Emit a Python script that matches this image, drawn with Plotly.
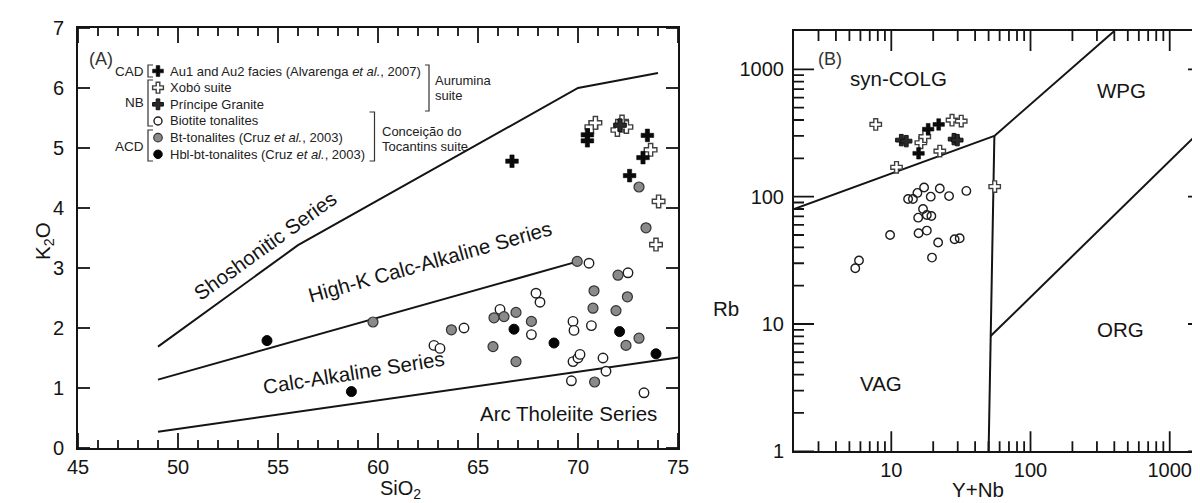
import plotly.graph_objects as go
import numpy as np

W, H = 1200, 503
FONT = "Liberation Sans, Arial, sans-serif"
INK = "#141414"

# ---------------- Panel A : K2O vs SiO2 ----------------
au_sio2 = [66.7, 70.47, 70.47, 73.47, 73.25, 72.58]
au_k2o = [4.78, 5.22, 5.12, 5.21, 4.84, 4.54]

xobo_sio2 = [70.67, 70.87, 72.2, 71.97, 72.42, 73.63, 74.03, 73.9]
xobo_k2o = [5.35, 5.42, 5.44, 5.3, 5.35, 4.97, 4.11, 3.39]

principe_sio2 = [72.1]
principe_k2o = [5.38]

bio_sio2 = [70.55, 72.5, 67.9, 68.1, 66.1, 67.67, 64.3, 62.8, 63.1, 69.75, 69.8,
            70.67, 69.75, 70.0, 70.1, 71.25, 71.4, 69.67, 73.3]
bio_k2o = [3.08, 2.92, 2.58, 2.43, 2.31, 1.89, 2.0, 1.71, 1.66, 2.11, 1.96,
           2.04, 1.44, 1.50, 1.56, 1.5, 1.28, 1.12, 0.92]

bt_sio2 = [59.75, 63.67, 65.75, 65.8, 66.3, 66.9, 67.67, 66.9, 69.96, 72.0, 70.8,
           72.47, 70.75, 71.9, 72.4, 73.05, 70.83, 73.05, 73.4]
bt_k2o = [2.1, 1.97, 1.69, 2.17, 2.19, 2.26, 2.11, 1.44, 3.11, 2.88, 2.62,
          2.52, 2.33, 2.29, 1.71, 1.83, 1.1, 4.35, 3.67]

hbl_sio2 = [54.45, 58.67, 66.8, 68.8, 72.08, 73.9]
hbl_k2o = [1.79, 0.94, 1.98, 1.75, 1.94, 1.57]

# series boundaries
sho_x = [49, 56, 70, 74]
sho_y = [1.69, 3.38, 6.0, 6.25]
hik_x = [49, 70]
hik_y = [1.14, 3.11]
ca_x = [49, 75]
ca_y = [0.27, 1.51]

# ticks of panel A
a_xticks = [45, 50, 55, 60, 65, 70, 75]
a_xminor = [v for v in range(46, 75) if v % 5 != 0]
a_yticks = [0, 1, 2, 3, 4, 5, 6, 7]

# ---------------- Panel B : Rb vs Y+Nb ----------------
xobo_ynb = [7.73, 27.3, 31.8, 16.3, 17.4, 22.3, 10.9, 55.3]
xobo_rb = [369, 399, 392, 265, 296, 228, 170, 120]

au_ynb = [18.4, 21.9, 15.7]
au_rb = [339, 369, 219]

principe_ynb = [11.8, 12.8, 28.2, 29.8]
principe_rb = [278, 273, 283, 278]

bio_ynb = [17.2, 22.3, 34.6, 15.4, 19.2, 26.0, 13.2, 14.3, 16.9, 15.6, 18.0,
           19.4, 9.8, 15.7, 18.0, 21.7, 28.5, 31.0, 19.6, 5.86, 5.51]
bio_rb = [118, 116, 111, 107, 100, 101, 95.8, 95.8, 80, 68.4, 71.8,
          70.5, 50, 51.6, 54.1, 43.6, 46.3, 47.1, 33.2, 31.5, 27.4]

# Pearce et al. (1984) field boundaries
b1_x, b1_y = [2, 55], [80, 300]
b2_x, b2_y = [55, 400], [300, 2000]
b3_x, b3_y = [55, 51.5, 50], [300, 8, 1]
b4_x, b4_y = [51.5, 2000], [8, 400]

# ticks of panel B
b_xticks = [10, 100, 1000]
b_yticks = [1, 10, 100, 1000]
b_minor = [d * 10 ** e for e in range(0, 4) for d in range(2, 10)]

# ---------------- panel geometry (layout) ----------------
A_PX = (70, 670)        # left/right pixel of panel A
A_PY = (440, 20)        # bottom/top pixel of panel A
B_PX = (786, 1200)
B_PY = (443.3, 23)
A_XR, A_YR = [45, 75], [0, 7]
B_XR, B_YR = [np.log10(2), 3.275], [0, np.log10(2000)]

a_ppx = (A_PX[1] - A_PX[0]) / (A_XR[1] - A_XR[0])
a_ppy = (A_PY[0] - A_PY[1]) / (A_YR[1] - A_YR[0])
b_ppx = (B_PX[1] - B_PX[0]) / (B_XR[1] - B_XR[0])
b_ppy = (B_PY[0] - B_PY[1]) / (B_YR[1] - B_YR[0])

# ---------------- styles ----------------
sty = {
    "au": dict(symbol="cross", size=10.5, color="#0a0a0a", line=dict(color="#0a0a0a", width=0.6)),
    "xobo": dict(symbol="cross", size=10.5, color="white", line=dict(color="#404040", width=1.4)),
    "principe": dict(symbol="cross", size=10.5, color="#2a2a2a", line=dict(color="#111", width=1.0)),
    "bio": dict(symbol="circle", size=9.5, color="white", line=dict(color="#1e1e1e", width=1.4)),
    "bt": dict(symbol="circle", size=10, color="#8a8a8a", line=dict(color="#333", width=1.2)),
    "hbl": dict(symbol="circle", size=10, color="#050505", line=dict(color="#050505", width=1)),
}
styB = {k: dict(v) for k, v in sty.items()}
styB["bio"] = dict(symbol="circle", size=8.5, color="rgba(0,0,0,0)", line=dict(color="#1e1e1e", width=1.4))
for k in ("au", "xobo", "principe"):
    styB[k]["size"] = 9.5

fig = go.Figure()

def line(x, y, xa="x", ya="y", width=2):
    fig.add_trace(go.Scatter(x=x, y=y, mode="lines", xaxis=xa, yaxis=ya,
                             line=dict(color=INK, width=width), showlegend=False, hoverinfo="skip"))

def pts(x, y, key, name, xa="x", ya="y", s=sty):
    fig.add_trace(go.Scatter(x=x, y=y, mode="markers", xaxis=xa, yaxis=ya, name=name,
                             marker=s[key], showlegend=False))

# ---- tick marks (inside, mirrored), built from the tick arrays ----
def segs(pairs):
    xs, ys = [], []
    for (x0, y0, x1, y1) in pairs:
        xs += [x0, x1, None]; ys += [y0, y1, None]
    return xs, ys

tA = []
for v in a_xticks:
    tA += [(v, A_YR[0], v, A_YR[0] + 15 / a_ppy), (v, A_YR[1], v, A_YR[1] - 15 / a_ppy)]
for v in a_xminor:
    tA += [(v, A_YR[0], v, A_YR[0] + 8 / a_ppy), (v, A_YR[1], v, A_YR[1] - 8 / a_ppy)]
for v in a_yticks:
    tA += [(A_XR[0], v, A_XR[0] + 12 / a_ppx, v), (A_XR[1], v, A_XR[1] - 12 / a_ppx, v)]
xs, ys = segs(tA)
line(xs, ys, width=1.8)

xlo, xhi = 10 ** B_XR[0], 10 ** B_XR[1]
ylo, yhi = 10 ** B_YR[0], 10 ** B_YR[1]
tB = []
for v, L in [(v, 20) for v in b_xticks] + [(v, 10) for v in b_minor if xlo * 1.01 < v < xhi]:
    tB += [(v, ylo, v, ylo * 10 ** (L / b_ppy)), (v, yhi, v, yhi / 10 ** (L / b_ppy))]
for v, L in [(v, 20) for v in b_yticks] + [(v, 10) for v in b_minor if ylo < v < yhi * 0.99]:
    tB += [(xlo, v, xlo * 10 ** (L / b_ppx), v), (xhi, v, xhi / 10 ** (L / b_ppx), v)]
xs, ys = segs(tB)
line(xs, ys, "x2", "y2", width=1.8)

# ---- data ----
for xx, yy in [(sho_x, sho_y), (hik_x, hik_y), (ca_x, ca_y)]:
    line(xx, yy)
pts(bio_sio2, bio_k2o, "bio", "Biotite tonalites")
pts(bt_sio2, bt_k2o, "bt", "Bt-tonalites")
pts(hbl_sio2, hbl_k2o, "hbl", "Hbl-bt-tonalites")
pts(xobo_sio2, xobo_k2o, "xobo", "Xobó suite")
pts(au_sio2, au_k2o, "au", "Au1 and Au2 facies")
pts(principe_sio2, principe_k2o, "principe", "Príncipe Granite")

for xx, yy in [(b1_x, b1_y), (b2_x, b2_y), (b3_x, b3_y), (b4_x, b4_y)]:
    line(xx, yy, "x2", "y2")
pts(bio_ynb, bio_rb, "bio", "Biotite tonalites", "x2", "y2", styB)
pts(xobo_ynb, xobo_rb, "xobo", "Xobó suite", "x2", "y2", styB)
pts(au_ynb, au_rb, "au", "Au1 and Au2 facies", "x2", "y2", styB)
pts(principe_ynb, principe_rb, "principe", "Príncipe Granite", "x2", "y2", styB)

# ---------------- legend of panel A (drawn inside the panel) ----------------
leg_labels = ["Au1 and Au2 facies (Alvarenga <i>et al.</i>, 2007)", "Xobó suite", "Príncipe Granite",
              "Biotite tonalites", "Bt-tonalites (Cruz <i>et al.</i>, 2003)",
              "Hbl-bt-tonalites (Cruz <i>et al.</i>, 2003)"]
leg_keys = ["au", "xobo", "principe", "bio", "bt", "hbl"]
leg_rows = [6.283, 6.005, 5.728, 5.45, 5.172, 4.895]
leg_sym_x = 49.0
leg_txt_x = 49.5
for key, yv in zip(leg_keys, leg_rows):
    m = dict(sty[key]); m["size"] = m["size"] - 1.5
    fig.add_trace(go.Scatter(x=[leg_sym_x], y=[yv], mode="markers", marker=m,
                             showlegend=False, hoverinfo="skip"))

ann = []
for lab, yv in zip(leg_labels, leg_rows):
    ann.append(dict(x=leg_txt_x, y=yv, xref="x", yref="y", text=lab, showarrow=False,
                    xanchor="left", yanchor="middle", font=dict(size=13, family=FONT, color="#222")))
for lab, yv in [("CAD", 6.283), ("NB", 5.75), ("ACD", 5.03)]:
    ann.append(dict(x=48.42, y=yv, xref="x", yref="y", text=lab, showarrow=False,
                    xanchor="right", yanchor="middle", font=dict(size=13.5, family=FONT, color="#222")))
for lab, xv, yv in [("Aurumina", 62.75, 6.133), ("suite", 62.75, 5.867),
                    ("Conceição do", 60.1, 5.283), ("Tocantins suite", 60.1, 5.017)]:
    ann.append(dict(x=xv, y=yv, xref="x", yref="y", text=lab, showarrow=False,
                    xanchor="left", yanchor="middle", font=dict(size=13, family=FONT, color="#222")))

shapes = []
def bracket(x_in, x_out, y0, y1):
    shapes.append(dict(type="path", xref="x", yref="y",
                       path=f"M {x_in} {y0} L {x_out} {y0} L {x_out} {y1} L {x_in} {y1}",
                       line=dict(color="#333", width=1.2)))
bracket(48.75, 48.5, 6.383, 6.183)
bracket(48.75, 48.5, 6.133, 5.367)
bracket(48.75, 48.5, 5.30, 4.783)
bracket(62.35, 62.55, 6.383, 5.617)
bracket(59.575, 59.825, 5.60, 4.783)

big = dict(size=20.5, family=FONT, color=INK)
ann += [
    dict(x=46.17, y=6.49, xref="x", yref="y", text="(A)", showarrow=False,
         font=dict(size=18, family=FONT, color="#333")),
    dict(x=54.35, y=3.38, xref="x", yref="y", text="Shoshonitic Series", textangle=-35.8,
         showarrow=False, font=big),
    dict(x=62.6, y=3.11, xref="x", yref="y", text="High-K Calc-Alkaline Series", textangle=-15.7,
         showarrow=False, font=big),
    dict(x=58.75, y=1.255, xref="x", yref="y", text="Calc-Alkaline Series", textangle=-9,
         showarrow=False, font=big),
    dict(x=69.54, y=0.583, xref="x", yref="y", text="Arc Tholeiite Series",
         showarrow=False, font=big),
    dict(x=0.557, y=3.085, xref="x2", yref="y2", text="(B)", showarrow=False,
         font=dict(size=18, family=FONT, color="#333")),
    dict(x=1.052, y=2.928, xref="x2", yref="y2", text="syn-COLG", showarrow=False, font=big),
    dict(x=2.650, y=2.836, xref="x2", yref="y2", text="WPG", showarrow=False, font=big),
    dict(x=2.648, y=0.954, xref="x2", yref="y2", text="ORG", showarrow=False, font=big),
    dict(x=0.928, y=0.530, xref="x2", yref="y2", text="VAG", showarrow=False, font=big),
    dict(x=370 / W, y=1 - 496 / H, xref="paper", yref="paper", text="SiO<sub>2</sub>",
         showarrow=False, font=dict(size=20, family=FONT, color=INK)),
    dict(x=21 / W, y=1 - 233 / H, xref="paper", yref="paper", text="K<sub>2</sub>O", textangle=-90,
         showarrow=False, font=dict(size=20.5, family=FONT, color=INK)),
    dict(x=998 / W, y=1 - 495 / H, xref="paper", yref="paper", text="Y+Nb",
         showarrow=False, font=dict(size=20.5, family=FONT, color=INK)),
    dict(x=718 / W, y=1 - 300 / H, xref="paper", yref="paper", text="Rb",
         showarrow=False, font=dict(size=20.5, family=FONT, color=INK)),
]

tickfont = dict(size=20, family=FONT, color=INK)
base = dict(showgrid=False, zeroline=False, showline=True, linecolor=INK, linewidth=2,
            ticks="", tickfont=tickfont, automargin=False)

fig.update_layout(
    width=W, height=H, autosize=False,
    margin=dict(l=0, r=0, t=0, b=0, pad=0, autoexpand=False),
    paper_bgcolor="white", plot_bgcolor="white", showlegend=False,
    font=dict(family=FONT, color=INK),
    xaxis=dict(domain=[A_PX[0] / W, A_PX[1] / W], range=A_XR, anchor="y",
               tickmode="array", tickvals=a_xticks, mirror=True, **base),
    yaxis=dict(domain=[1 - A_PY[0] / H, 1 - A_PY[1] / H], range=A_YR, anchor="x",
               tickmode="array", tickvals=a_yticks, mirror=True, ticklabelstandoff=8, **base),
    xaxis2=dict(domain=[B_PX[0] / W, B_PX[1] / W], type="log", range=B_XR, anchor="y2",
                tickmode="array", tickvals=b_xticks, ticktext=[str(v) for v in b_xticks],
                mirror=True, **base),
    yaxis2=dict(domain=[1 - B_PY[0] / H, 1 - B_PY[1] / H], type="log", range=B_YR,
                anchor="x2", tickmode="array", tickvals=b_yticks,
                ticktext=[str(v) for v in b_yticks], ticklabelstandoff=4, **base),
    annotations=ann, shapes=shapes,
)

fig.write_html("out.html")
